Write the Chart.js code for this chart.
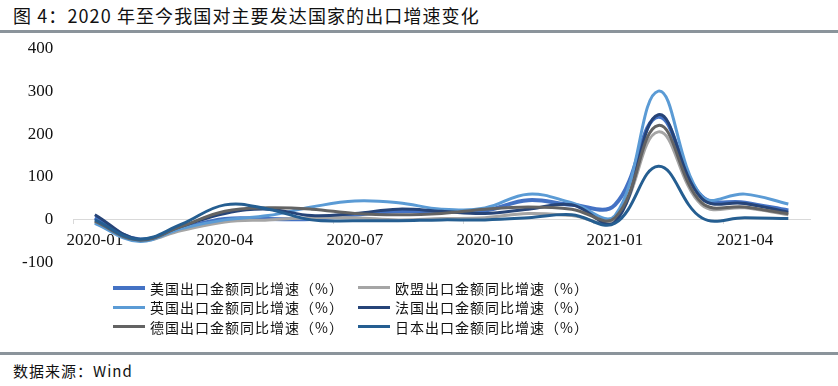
<!DOCTYPE html>
<html>
<head>
<meta charset="utf-8">
<script src="https://cdn.jsdelivr.net/npm/chart.js@4.4.1/dist/chart.umd.min.js"></script>
<style>
  body { margin: 0; width: 838px; height: 386px; background: #fff; position: relative; overflow: hidden;
         font-family: "Noto Sans CJK SC", sans-serif; color: #111; }
  #title { position: absolute; left: 13px; top: 2px; font-size: 18px; letter-spacing: 1.1px; line-height: 26px; white-space: nowrap; }
  .rule { position: absolute; left: 0; width: 838px; height: 3px; background: #8b949b; }
  #chartBox { position: absolute; left: 0; top: 18px; width: 838px; height: 275px; }
  #legend { position: absolute; left: 113px; top: 278px; display: grid; grid-template-columns: 245px 245px; }
  .item { display: flex; align-items: center; height: 19.5px; font-size: 14px; letter-spacing: 1px; white-space: nowrap; }
  .swatch { width: 32px; margin-right: 5px; }
  #source { position: absolute; left: 13px; top: 360px; font-size: 15px; letter-spacing: 1px; }
</style>
</head>
<body>
<div id="title">图 4：2020 年至今我国对主要发达国家的出口增速变化</div>
<div class="rule" style="top:30px"></div>
<div id="chartBox"><canvas id="chart"></canvas></div>
<div id="legend"></div>
<div class="rule" style="top:352px"></div>
<div id="source">数据来源：Wind</div>

<script>
// months on the x axis, only every 3rd one gets a label
const months = ['2020-01', '2020-02', '2020-03', '2020-04', '2020-05', '2020-06', '2020-07', '2020-08', '2020-09',
                '2020-10', '2020-11', '2020-12', '2021-01', '2021-02', '2021-03', '2021-04', '2021-05'];

// export growth yoy (%)
const usGrowth      = [5, -45, -20, 2, 2, 2, 12, 20, 20, 22, 46, 35, 35, 240, 55, 40, 22];
const euGrowth      = [-5, -48, -25, -5, 0, 5, 5, 0, 3, 5, 15, 10, 0, 205, 35, 28, 12];
const ukGrowth      = [-8, -50, -20, 0, 10, 30, 44, 40, 25, 28, 60, 40, 10, 300, 55, 60, 37];
const franceGrowth  = [12, -45, -15, 15, 25, 10, 15, 25, 20, 15, 25, 35, -5, 245, 50, 38, 18];
const germanyGrowth = [-3, -47, -15, 20, 28, 25, 15, 12, 15, 25, 30, 25, 5, 220, 40, 30, 14];
const japanGrowth   = [0, -45, -10, 35, 25, 0, -2, -2, 0, 0, 5, 12, -8, 125, 5, 5, 3];

const seriesNames = ['美国出口金额同比增速（%）', '欧盟出口金额同比增速（%）', '英国出口金额同比增速（%）',
                     '法国出口金额同比增速（%）', '德国出口金额同比增速（%）', '日本出口金额同比增速（%）'];
const seriesData = [usGrowth, euGrowth, ukGrowth, franceGrowth, germanyGrowth, japanGrowth];
const seriesColors = ['#4472C4', '#A5A5A5', '#5B9BD5', '#264478', '#636363', '#255E91'];
const seriesWidths = [4, 3, 3, 3, 3, 3];

const yTicks = { min: -100, max: 400, step: 100 };

let datasets = seriesNames.map(function (name, i) {
    return {
        label: name,
        data: seriesData[i],
        borderColor: seriesColors[i],
        backgroundColor: seriesColors[i],
        borderWidth: seriesWidths[i],
        pointRadius: 0,
        tension: 0.4,
        fill: false,
        order: seriesNames.length - i   // later series on top, like excel
    };
});

let ctx = document.getElementById('chart').getContext('2d');
let chart = new Chart(ctx, {
    type: 'line',
    data: { labels: months, datasets: datasets },
    options: {
        responsive: true,
        maintainAspectRatio: false,
        animation: false,
        layout: { padding: { left: 2, right: 28, top: 12, bottom: 11 } },
        plugins: { legend: { display: false }, tooltip: { enabled: false } },
        scales: {
            x: {
                position: { y: 0 },
                offset: true,
                grid: {
                    display: true,
                    offset: true,
                    drawOnChartArea: false,
                    drawTicks: true,
                    tickLength: 4,
                    color: function (c) { return c.index % 3 === 0 ? '#d9d9d9' : 'rgba(0,0,0,0)'; }
                },
                border: { display: true, color: '#d9d9d9', width: 1 },
                ticks: {
                    autoSkip: false,
                    maxRotation: 0,
                    padding: 6,
                    color: '#111',
                    font: { family: 'Liberation Serif', size: 17 },
                    callback: function (value, index) { return index % 3 === 0 ? months[index] : ''; }
                }
            },
            y: {
                min: yTicks.min,
                max: yTicks.max,
                grid: { display: false, drawTicks: false },
                border: { display: false },
                ticks: {
                    stepSize: yTicks.step,
                    padding: 20,
                    color: '#111',
                    font: { family: 'Liberation Serif', size: 17 }
                }
            }
        }
    }
});

// html legend, two columns like the original
let legendDiv = document.getElementById('legend');
chart.data.datasets.forEach(function (ds) {
    let item = document.createElement('div');
    item.className = 'item';
    item.innerHTML = `<span class="swatch" style="border-top:${ds.borderWidth}px solid ${ds.borderColor}"></span><span>${ds.label}</span>`;
    legendDiv.appendChild(item);
});
</script>
</body>
</html>
